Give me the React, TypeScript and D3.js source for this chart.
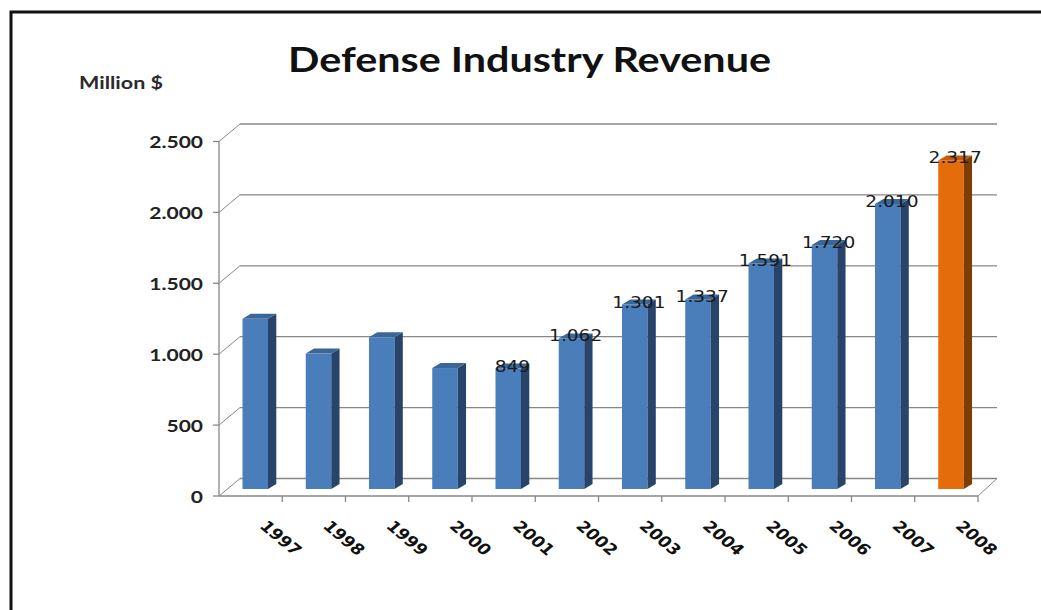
import React from "react";
import * as d3 from "d3";

const years = ["1997","1998","1999","2000","2001","2002","2003","2004","2005","2006","2007","2008"];
const revenue = [1200, 955, 1070, 853, 849, 1062, 1301, 1337, 1591, 1720, 2010, 2317];
const labelled = [false, false, false, false, true, true, true, true, true, true, true, true];
const labelText = ["", "", "", "", "849", "1.062", "1.301", "1.337", "1.591", "1.720", "2.010", "2.317"];
const yTicks = [0, 500, 1000, 1500, 2000, 2500];
const yTickLabels = ["0", "500", "1.000", "1.500", "2.000", "2.500"];
const highlightYear = "2008";

const W = 1041, H = 610;
const SX = 1.2; // horizontal stretch of the source picture

export default function App() {
  const x = d3.scaleBand<string>().domain(years).range([219, 978]).padding(0);
  const yF = d3.scaleLinear().domain([0, 2500]).range([496, 141.5]);
  const backDx = 21, backDy = -17.5;
  const barDy = -7; // bar front plane offset
  const depthDx = 8.3, depthDy = -5;
  const barW = 25.5;
  const gridColor = "#878787";

  return (
    <svg width={W} height={H} style={{ position: "absolute", left: 0, top: 0, background: "#fff" }}>
      <rect x={0} y={0} width={W} height={H} fill="#fff" />
      <rect x={11} y={12} width={W + 20} height={H + 20} fill="#fff" stroke="#111" strokeWidth={3} />

      <text
        x={288} y={72} fontFamily="Lato" fontWeight="bold" fontSize={35}
        textLength={483} lengthAdjust="spacingAndGlyphs" fill="#111"
      >Defense Industry Revenue</text>
      <text
        x={79} y={89} fontFamily="Lato" fontWeight="bold" fontSize={16.5}
        textLength={84} lengthAdjust="spacingAndGlyphs" fill="#2a2a2a"
      >Million $</text>

      {/* back wall gridlines and connectors */}
      {yTicks.map((t, i) => (
        <g key={"g" + t}>
          <line x1={219 + backDx} x2={997} y1={yF(t) + backDy} y2={yF(t) + backDy} stroke={gridColor} strokeWidth={1.3} />
          <line x1={219} x2={219 + backDx} y1={yF(t)} y2={yF(t) + backDy} stroke={gridColor} strokeWidth={1} />
          <line x1={213} x2={219} y1={yF(t)} y2={yF(t)} stroke={gridColor} strokeWidth={1.3} />
          <g transform={`translate(203,${yF(t) + 6.5}) scale(${SX},1)`}>
            <text x={0} y={0} textAnchor="end" fontFamily="Lato" fontWeight="bold" fontSize={17.5} fill="#222">
              {yTickLabels[i]}
            </text>
          </g>
        </g>
      ))}
      {/* y axis */}
      <line x1={219} x2={219} y1={yF(2500)} y2={yF(0)} stroke={gridColor} strokeWidth={1.3} />
      {/* floor front and right edge */}
      <line x1={219} x2={978} y1={yF(0)} y2={yF(0)} stroke={gridColor} strokeWidth={1.3} />
      <line x1={978} x2={997} y1={yF(0)} y2={yF(0) + backDy} stroke={gridColor} strokeWidth={1} />
      {years.map((yr) => (
        <line key={"t" + yr} x1={(x(yr) as number) + x.bandwidth()} x2={(x(yr) as number) + x.bandwidth()}
          y1={yF(0)} y2={yF(0) + 6} stroke={gridColor} strokeWidth={1.3} />
      ))}

      {/* bars */}
      {years.map((yr, i) => {
        const v = revenue[i];
        const hl = yr === highlightYear;
        const front = hl ? "#E46C0A" : "#4A7EBB";
        const side = hl ? "#7F3D06" : "#28446B";
        const top = hl ? "#C55A08" : "#3B6699";
        const x0 = (x(yr) as number) + 23.5;
        const x1 = x0 + barW;
        const yb = yF(0) + barDy;
        const yt = yF(v) + barDy;
        return (
          <g key={"b" + yr}>
            <rect x={x0} y={yt} width={barW} height={yb - yt} fill={front} />
            <polygon points={`${x1},${yt} ${x1 + depthDx},${yt + depthDy} ${x1 + depthDx},${yb + depthDy} ${x1},${yb}`} fill={side} />
            <polygon points={`${x0},${yt} ${x0 + depthDx},${yt + depthDy} ${x1 + depthDx},${yt + depthDy} ${x1},${yt}`} fill={top} />
          </g>
        );
      })}

      {/* data labels */}
      {years.map((yr, i) => labelled[i] ? (
        <g key={"l" + yr} transform={`translate(${(x(yr) as number) + 23.5 + (barW + depthDx) / 2},${yF(revenue[i]) + barDy + 3}) scale(${SX},1)`}>
          <text x={0} y={0} textAnchor="middle" fontFamily="DejaVu Sans" fontSize={15.5} fill="#1a1a1a">{labelText[i]}</text>
        </g>
      ) : null)}

      {/* x labels */}
      {years.map((yr) => (
        <g key={"x" + yr} transform={`translate(${(x(yr) as number) + x.bandwidth() / 2 + 8},${527}) scale(${SX},1) rotate(45)`}>
          <text x={0} y={0} fontFamily="DejaVu Sans" fontWeight="bold" fontSize={15} fill="#111">{yr}</text>
        </g>
      ))}
    </svg>
  );
}
